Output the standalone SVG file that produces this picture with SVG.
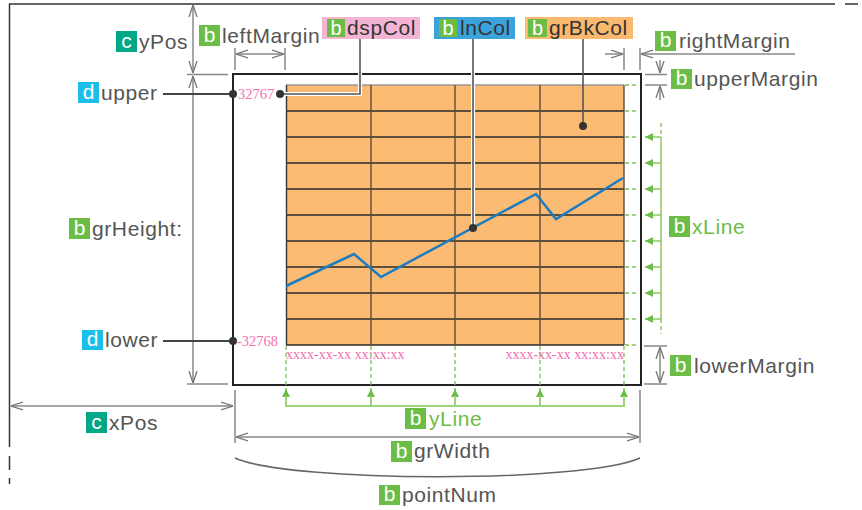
<svg xmlns="http://www.w3.org/2000/svg" width="862" height="510" viewBox="0 0 862 510">
<style>
.lbl{font-family:"Liberation Sans",Arial,sans-serif;font-size:21px;letter-spacing:0.6px;fill:#555}
.dark{fill:#333}
.grn{fill:#6cbd45}
.bt{font-family:"Liberation Sans",Arial,sans-serif;font-size:21px;fill:#fff;text-anchor:middle}
.bb{fill:#6cbd45}.bc{fill:#00a886}.bd{fill:#1bbde9}
.dim{stroke:#888;stroke-width:1.5;fill:none}
.dimA{stroke:#888;stroke-width:1.5;fill:none;marker-start:url(#ah);marker-end:url(#ah)}
.dimE{stroke:#888;stroke-width:1.5;fill:none;marker-end:url(#ah)}
.gd{stroke:#7cc14f;stroke-width:1.3;stroke-dasharray:4 3;fill:none}
.gs{stroke:#9ed37c;stroke-width:2;fill:none}
.pink{font-family:"Liberation Serif","Times New Roman",serif;font-size:14px;fill:#f46fb0}
.lead{stroke:#555;stroke-width:1.6;fill:none}
.halo{stroke:#fff;stroke-width:4;fill:none}
</style>
<defs>
<marker id="ah" viewBox="0 0 12 10" refX="12" refY="5" markerWidth="12" markerHeight="10" markerUnits="userSpaceOnUse" orient="auto-start-reverse">
<path d="M0,1 L12,5 L0,9" fill="none" stroke="#777" stroke-width="1.3"/>
</marker>
<marker id="ga" viewBox="0 0 8 8" refX="8" refY="4" markerWidth="8" markerHeight="8" markerUnits="userSpaceOnUse" orient="auto">
<path d="M0,0 L8,4 L0,8 Z" fill="#6cbd45"/>
</marker>
</defs>

<g id="frame">
<path d="M9 4 H835 M845 4 H858" stroke="#333" stroke-width="1.5" fill="none"/>
<path d="M9.5 4 V447 M9.5 456 V470 M9.5 478 V484" stroke="#333" stroke-width="1.5" fill="none"/>
</g>

<g id="graph">
<rect x="233" y="74" width="408" height="311" fill="#fff" stroke="#222" stroke-width="2"/>
<rect x="286" y="85" width="338" height="260" fill="#fbbb72"/>
<path d="M286 111H624M286 137H624M286 163H624M286 189H624M286 215H624M286 241H624M286 267H624M286 293H624M286 319H624M286 345H624" stroke="#2b2b2b" stroke-width="1.4"/>
<path d="M286 85H624" stroke="#999" stroke-width="1.5"/>
<path d="M371 85V345M455 85V345M540 85V345M624 85V345" stroke="#5e4d3c" stroke-width="1.4"/>
<path d="M286.5 85V345" stroke="#333" stroke-width="1.4"/>
<polyline points="286,286 354,254 381,277 536,194 556,219 623,178" fill="none" stroke="#1c7cc2" stroke-width="2.5"/>
<text class="pink" x="238" y="99" style="font-size:14.5px">32767</text>
<text class="pink" x="237" y="346" style="font-size:14.5px">-32768</text>
<text class="pink" x="286" y="359">xxxx-xx-xx xx:xx:xx</text>
<text class="pink" x="624" y="359" text-anchor="end">xxxx-xx-xx xx:xx:xx</text>
</g>

<g id="connectors">
<path class="dimA" d="M193 5 V73"/>
<path class="dim" d="M187 74.5 H228"/>
<path class="dimA" d="M193 76 V383"/>
<path class="dim" d="M187 384 H228"/>
<path class="dim" d="M235 48 V70 M285 48 V70"/>
<path class="dimA" d="M236 54 H284"/>
<path class="dim" d="M624 48 V70 M640 48 V70"/>
<path class="dimE" d="M605 54 H623"/>
<path class="dimE" d="M795 54 H641"/>
<path class="dim" d="M645 74.5 H667 M645 85 H667"/>
<path class="dimE" d="M660 60 V73"/>
<path class="dimE" d="M660 100 V86"/>
<path class="dim" d="M644 346 H667 M644 384 H667"/>
<path class="dimA" d="M660 347 V383"/>
<path class="dim" d="M235 390 V443 M640 390 V443"/>
<path class="dimA" d="M11 406 H233"/>
<path class="dimA" d="M236 437 H639"/>
<path d="M235 458 C290 483 585 483 640 458" stroke="#666" stroke-width="1.5" fill="none"/>
<path d="M163 94 H233 M163 341 H233" stroke="#444" stroke-width="2"/>
<circle cx="233" cy="94" r="4" fill="#333"/>
<circle cx="233" cy="341" r="4" fill="#333"/>
<path class="halo" d="M360 39 V94 H280"/>
<path class="lead" d="M360 39 V94 H280"/>
<circle cx="280" cy="94" r="4" fill="#333"/>
<path class="halo" d="M473 39 V228"/>
<path class="lead" d="M473 39 V228"/>
<circle cx="473" cy="228" r="4" fill="#333"/>
<path class="lead" d="M583 39 V126"/>
<circle cx="583" cy="126" r="4" fill="#333"/>
<path class="gd" d="M625 85H636M625 111H636M625 137H636M625 163H636M625 189H636M625 215H636M625 241H636M625 267H636M625 293H636M625 319H636M625 345H636"/>
<path class="gd" d="M661 123 V137 M661 319 V334"/>
<path d="M661 137 V319" stroke="#7cc14f" stroke-width="1.3" fill="none"/>
<g stroke="#7cc14f" stroke-width="1.3" marker-end="url(#ga)">
<path d="M661 137H645"/><path d="M661 163H645"/><path d="M661 189H645"/><path d="M661 215H645"/>
<path d="M661 241H645"/><path d="M661 267H645"/><path d="M661 293H645"/><path d="M661 319H645"/>
</g>
<path class="gd" d="M286 346 V390 M371 346 V390 M455 346 V390 M540 346 V390 M624 346 V390"/>
<g stroke="#7cc14f" stroke-width="1.3" marker-end="url(#ga)">
<path d="M286 398V389"/><path d="M371 398V389"/><path d="M455 398V389"/><path d="M540 398V389"/><path d="M624 398V389"/>
</g>
<path class="gs" d="M286 396 V406 H624 V396 M371 396 V406 M455 396 V406 M540 396 V406"/>
</g>

<g id="yPos"><rect class="bc" x="116" y="31" width="21" height="21"/><text class="bt" x="126.5" y="48">c</text><text class="lbl" x="139" y="49">yPos</text></g>
<g id="leftMargin"><rect class="bb" x="199" y="25" width="21" height="21"/><text class="bt" x="209.5" y="42">b</text><text class="lbl" x="222" y="43">leftMargin</text></g>
<g id="dspCol"><rect x="322" y="17" width="98" height="22" fill="#f4b4d4"/><rect class="bb" x="327" y="19" width="18" height="18"/><text class="bt" x="336" y="35" style="font-size:20px">b</text><text class="lbl dark" x="347" y="35">dspCol</text></g>
<g id="lnCol"><rect x="434" y="17" width="81" height="22" fill="#3aa3dc"/><rect class="bb" x="439" y="19" width="18" height="18"/><text class="bt" x="448" y="35" style="font-size:20px">b</text><text class="lbl dark" x="460" y="35">lnCol</text></g>
<g id="grBkCol"><rect x="525" y="17" width="108" height="22" fill="#fbb86f"/><rect class="bb" x="528" y="19" width="19" height="18"/><text class="bt" x="537.5" y="35" style="font-size:20px">b</text><text class="lbl dark" x="549" y="35">grBkCol</text></g>
<g id="rightMargin"><rect class="bb" x="655" y="31" width="21" height="20"/><text class="bt" x="665.5" y="47">b</text><text class="lbl" x="679" y="48">rightMargin</text></g>
<g id="upperMargin"><rect class="bb" x="671" y="69" width="21" height="20"/><text class="bt" x="681.5" y="85">b</text><text class="lbl" x="694" y="86">upperMargin</text></g>
<g id="upper"><rect class="bd" x="78" y="82" width="21" height="21"/><text class="bt" x="88.5" y="99">d</text><text class="lbl" x="101" y="100">upper</text></g>
<g id="grHeight"><rect class="bb" x="69" y="218" width="21" height="21"/><text class="bt" x="79.5" y="235">b</text><text class="lbl" x="92" y="236">grHeight:</text></g>
<g id="lower"><rect class="bd" x="82" y="330" width="21" height="20"/><text class="bt" x="92.5" y="346">d</text><text class="lbl" x="105" y="347">lower</text></g>
<g id="xLine"><rect class="bb" x="669" y="216" width="21" height="21"/><text class="bt" x="679.5" y="233">b</text><text class="lbl grn" x="692" y="234">xLine</text></g>
<g id="lowerMargin"><rect class="bb" x="670" y="355" width="21" height="21"/><text class="bt" x="680.5" y="372">b</text><text class="lbl" x="694" y="373">lowerMargin</text></g>
<g id="xPos"><rect class="bc" x="86" y="412" width="21" height="21"/><text class="bt" x="96.5" y="429">c</text><text class="lbl" x="109" y="430">xPos</text></g>
<g id="yLine"><rect class="bb" x="405" y="408" width="21" height="21"/><text class="bt" x="415.5" y="425">b</text><text class="lbl grn" x="429" y="426">yLine</text></g>
<g id="grWidth"><rect class="bb" x="391" y="441" width="21" height="21"/><text class="bt" x="401.5" y="458">b</text><text class="lbl" x="414" y="458">grWidth</text></g>
<g id="pointNum"><rect class="bb" x="379" y="485" width="21" height="20"/><text class="bt" x="389.5" y="501">b</text><text class="lbl" x="402" y="502">pointNum</text></g>
</svg>
